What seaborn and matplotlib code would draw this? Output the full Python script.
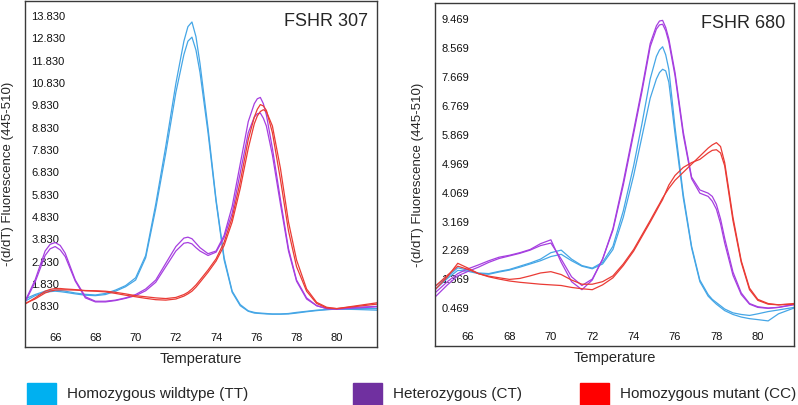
import numpy as np
import pandas as pd
import matplotlib
matplotlib.use("Agg")
import matplotlib.pyplot as plt
from matplotlib.patches import Rectangle
import seaborn as sns

# ---- FSHR 307 panel ----
temp_307 = [64.5, 65.0, 65.5, 65.75, 66.0, 66.25, 66.5, 67.0, 67.5, 68.0, 68.5, 69.0,
            69.5, 70.0, 70.5, 71.0, 71.5, 72.0, 72.4, 72.6, 72.8, 73.0, 73.2, 73.6,
            74.0, 74.4, 74.8, 75.2, 75.6, 75.9, 76.05, 76.2, 76.35, 76.5, 76.8, 77.2,
            77.6, 78.0, 78.5, 79.0, 79.5, 80.0, 81.0, 82.0]
tt_307_a = [1.15, 1.35, 1.5, 1.53, 1.55, 1.53, 1.5, 1.42, 1.36, 1.33, 1.4, 1.55,
            1.75, 2.1, 3.1, 5.4, 8.0, 10.8, 12.7, 13.35, 13.56, 12.9, 11.7, 8.8,
            5.6, 3.0, 1.5, 0.9, 0.62, 0.55, 0.53, 0.52, 0.51, 0.5, 0.48, 0.48,
            0.5, 0.55, 0.6, 0.65, 0.68, 0.7, 0.68, 0.65]
tt_307_b = [1.05, 1.3, 1.45, 1.48, 1.5, 1.48, 1.45, 1.38, 1.32, 1.3, 1.35, 1.5,
            1.7, 2.0, 3.0, 5.2, 7.7, 10.4, 12.1, 12.7, 12.88, 12.3, 11.3, 8.6,
            5.5, 2.9, 1.45, 0.85, 0.6, 0.52, 0.51, 0.5, 0.49, 0.48, 0.47, 0.47,
            0.48, 0.52, 0.58, 0.63, 0.67, 0.7, 0.72, 0.72]
ct_307_a = [1.05, 2.0, 3.3, 3.6, 3.68, 3.55, 3.2, 2.0, 1.25, 1.05, 1.05, 1.1,
            1.2, 1.35, 1.6, 2.0, 2.75, 3.5, 3.88, 3.92, 3.85, 3.65, 3.45, 3.18,
            3.3, 4.0, 5.3, 7.2, 9.1, 9.9, 10.12, 10.18, 9.9, 9.4, 7.9, 5.6,
            3.4, 2.0, 1.2, 0.85, 0.72, 0.7, 0.75, 0.8]
ct_307_b = [1.0, 1.9, 3.1, 3.4, 3.5, 3.35, 3.05, 1.95, 1.2, 1.02, 1.02, 1.08,
            1.18, 1.3, 1.52, 1.9, 2.6, 3.3, 3.65, 3.68, 3.62, 3.45, 3.3, 3.1,
            3.25, 3.9, 5.0, 6.8, 8.6, 9.3, 9.45, 9.48, 9.25, 8.9, 7.6, 5.4,
            3.3, 1.95, 1.15, 0.85, 0.72, 0.7, 0.78, 0.82]
cc_307_a = [0.92, 1.2, 1.5, 1.58, 1.62, 1.62, 1.6, 1.57, 1.53, 1.52, 1.5, 1.45,
            1.38, 1.3, 1.25, 1.2, 1.17, 1.22, 1.35, 1.45, 1.6, 1.78, 2.0, 2.45,
            2.95, 3.7, 4.8, 6.4, 8.3, 9.3, 9.65, 9.86, 9.8, 9.6, 8.6, 6.5,
            4.2, 2.6, 1.5, 0.95, 0.75, 0.72, 0.85, 0.98]
cc_307_b = [0.95, 1.15, 1.42, 1.5, 1.55, 1.56, 1.56, 1.55, 1.52, 1.5, 1.47, 1.4,
            1.32, 1.25, 1.18, 1.12, 1.1, 1.15, 1.28, 1.38, 1.5, 1.68, 1.9, 2.35,
            2.85, 3.55, 4.6, 6.1, 7.9, 9.0, 9.35, 9.55, 9.63, 9.55, 8.9, 7.0,
            4.6, 2.9, 1.6, 1.0, 0.78, 0.72, 0.82, 0.92]

# ---- FSHR 680 panel ----
temp_680 = [64.4, 65.0, 65.5, 66.0, 66.5, 67.0, 67.5, 68.0, 68.5, 69.0, 69.5, 70.0,
            70.5, 71.0, 71.5, 72.0, 72.5, 73.0, 73.5, 74.0, 74.4, 74.8, 75.1, 75.25,
            75.4, 75.55, 75.7, 76.0, 76.4, 76.8, 77.2, 77.6, 77.8, 78.0, 78.2, 78.4,
            78.8, 79.2, 79.6, 80.0, 80.5, 81.0, 81.75]
tt_680_a = [1.15, 1.45, 1.73, 1.65, 1.57, 1.55, 1.62, 1.68, 1.78, 1.88, 2.0, 2.2,
            2.28, 2.0, 1.8, 1.72, 1.9, 2.4, 3.5, 4.9, 6.2, 7.6, 8.3, 8.5,
            8.6, 8.35, 7.9, 6.1, 4.0, 2.4, 1.35, 0.9, 0.75, 0.65, 0.55, 0.45,
            0.33, 0.28, 0.25, 0.3, 0.37, 0.42, 0.5]
tt_680_b = [1.05, 1.4, 1.65, 1.62, 1.55, 1.53, 1.6, 1.66, 1.75, 1.85, 1.95, 2.08,
            2.15, 1.95, 1.78, 1.7, 1.85, 2.3, 3.3, 4.6, 5.8, 7.0, 7.6, 7.8,
            7.9, 7.85, 7.5, 5.9, 3.9, 2.35, 1.3, 0.85, 0.72, 0.6, 0.5, 0.4,
            0.28, 0.2, 0.15, 0.12, 0.08, 0.3, 0.48]
ct_680_a = [0.95, 1.3, 1.55, 1.7, 1.82, 1.95, 2.06, 2.12, 2.2, 2.3, 2.48, 2.6,
            1.9, 1.3, 1.05, 1.35, 2.0, 2.95, 4.4, 6.0, 7.3, 8.7, 9.25, 9.4,
            9.42, 9.2, 8.85, 7.8, 5.95, 4.55, 4.15, 4.05, 3.95, 3.7, 3.25, 2.65,
            1.6, 0.95, 0.62, 0.52, 0.48, 0.5, 0.58]
ct_680_b = [0.82, 1.2, 1.48, 1.62, 1.75, 1.9, 2.02, 2.1, 2.18, 2.28, 2.42, 2.5,
            2.0, 1.45, 1.18, 1.38, 2.0, 2.9, 4.3, 5.9, 7.2, 8.6, 9.15, 9.28,
            9.3, 9.1, 8.75, 7.7, 5.85, 4.5, 4.05, 3.95, 3.8, 3.55, 3.1, 2.5,
            1.5, 0.9, 0.6, 0.5, 0.47, 0.5, 0.6]
cc_680_a = [1.05, 1.45, 1.87, 1.72, 1.55, 1.47, 1.42, 1.37, 1.4, 1.48, 1.57, 1.61,
            1.52, 1.35, 1.22, 1.22, 1.3, 1.48, 1.85, 2.3, 2.75, 3.2, 3.55, 3.72,
            3.9, 4.05, 4.2, 4.45, 4.7, 4.95, 5.2, 5.45, 5.55, 5.62, 5.5, 5.0,
            3.3, 1.95, 1.1, 0.75, 0.62, 0.58, 0.6]
cc_680_b = [1.15, 1.5, 1.78, 1.68, 1.55, 1.45, 1.38, 1.32, 1.28, 1.25, 1.22, 1.2,
            1.18, 1.12, 1.08, 1.05, 1.2, 1.42, 1.8, 2.25, 2.7, 3.15, 3.5, 3.68,
            3.85, 4.08, 4.3, 4.6, 4.85, 5.0, 5.1, 5.3, 5.38, 5.4, 5.3, 4.9,
            3.2, 1.9, 1.05, 0.72, 0.6, 0.58, 0.62]

yticks_307 = [0.83, 1.83, 2.83, 3.83, 4.83, 5.83, 6.83, 7.83, 8.83, 9.83,
              10.83, 11.83, 12.83, 13.83]
yticks_680 = [0.469, 1.369, 2.269, 3.169, 4.069, 4.969, 5.869, 6.769, 7.669,
              8.569, 9.469]
xticks = [66, 68, 70, 72, 74, 76, 78, 80]

genotypes = ["Homozygous wildtype (TT)", "Heterozygous (CT)", "Homozygous mutant (CC)"]
line_colors = ["#45a6e6", "#a63fe0", "#ea3b35"]
legend_colors = ["#00b0f0", "#7030a0", "#ff0000"]


def long_form(temp, curves):
    frames = []
    for i, (geno, vals) in enumerate(curves):
        frames.append(pd.DataFrame({"temp": temp, "value": vals,
                                    "genotype": geno, "run": i}))
    return pd.concat(frames, ignore_index=True)


df_307 = long_form(temp_307, [
    (genotypes[0], tt_307_a), (genotypes[0], tt_307_b),
    (genotypes[1], ct_307_a), (genotypes[1], ct_307_b),
    (genotypes[2], cc_307_a), (genotypes[2], cc_307_b)])
df_680 = long_form(temp_680, [
    (genotypes[0], tt_680_a), (genotypes[0], tt_680_b),
    (genotypes[1], ct_680_a), (genotypes[1], ct_680_b),
    (genotypes[2], cc_680_a), (genotypes[2], cc_680_b)])

sns.set_style("white")
plt.rcParams["font.family"] = ["Liberation Sans", "DejaVu Sans"]

fig = plt.figure(figsize=(7.98, 4.05), dpi=100)
ax1 = fig.add_axes([25 / 798, 1 - 347 / 405, 352 / 798, 346 / 405])
ax2 = fig.add_axes([435 / 798, 1 - 346 / 405, 359 / 798, 343 / 405])

panels = [(ax1, df_307, "FSHR 307", yticks_307, (64.5, 82.0), (-1.0, 14.5)),
          (ax2, df_680, "FSHR 680", yticks_680, (64.4, 81.75), (-0.70, 9.96))]

for ax, df, name, yt, xl, yl in panels:
    sns.lineplot(data=df, x="temp", y="value", hue="genotype", units="run",
                 estimator=None, palette=dict(zip(genotypes, line_colors)),
                 hue_order=genotypes, legend=False, lw=0.9, ax=ax)
    ax.set_xlim(*xl)
    ax.set_ylim(*yl)
    ax.set_xticks(xticks)
    ax.set_yticks(yt)
    ax.set_yticklabels(["%.3f" % v for v in yt])
    ax.tick_params(axis="both", length=0, labelsize=8, colors="#111111")
    ax.tick_params(axis="y", pad=-4.5)
    ax.tick_params(axis="x", pad=-10)
    for lab in ax.get_yticklabels():
        lab.set_horizontalalignment("left")
    for sp in ax.spines.values():
        sp.set_color("#3a3a3a")
        sp.set_linewidth(1.0)
    ax.set_xlabel("Temperature", fontsize=10.5)
    ax.xaxis.set_label_coords(0.5, -0.015)
    ax.xaxis.label.set_va("top")
    ax.set_ylabel("-(d/dT) Fluorescence (445-510)", fontsize=9.5)
    ax.yaxis.set_label_coords(-0.031, 0.5)
    ax.text(0.975, 0.965, name, transform=ax.transAxes, ha="right", va="top",
            fontsize=13)

# legend row along the bottom
legend_x = [27, 353, 580]
for x0, col, geno in zip(legend_x, legend_colors, genotypes):
    fig.patches.append(Rectangle((x0 / 798, 1 - 412 / 405), 29 / 798, 29 / 405,
                                 transform=fig.transFigure, color=col,
                                 clip_on=False))
    fig.text((x0 + 40) / 798, 1 - 394 / 405, geno, fontsize=11, va="center",
             ha="left")

fig.savefig("out.png", dpi=100)
